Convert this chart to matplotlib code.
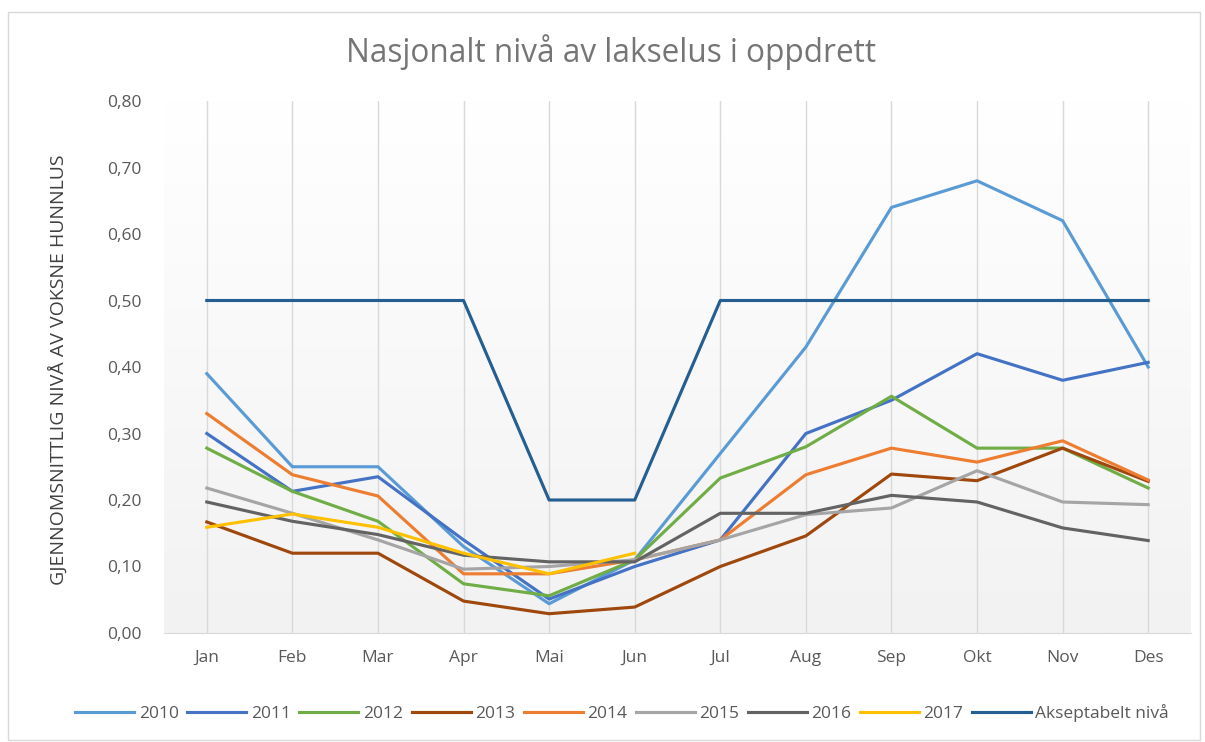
import numpy as np
import matplotlib.pyplot as plt
from matplotlib.patches import Rectangle
from matplotlib.colors import LinearSegmentedColormap

plt.rcParams['font.family'] = ['Open Sans', 'DejaVu Sans']

months = ['Jan', 'Feb', 'Mar', 'Apr', 'Mai', 'Jun', 'Jul', 'Aug', 'Sep', 'Okt', 'Nov', 'Des']

y2010 = [0.39, 0.25, 0.25, 0.13, 0.044, 0.11, 0.27, 0.43, 0.64, 0.68, 0.62, 0.40]
y2011 = [0.30, 0.213, 0.235, 0.14, 0.051, 0.10, 0.14, 0.30, 0.35, 0.42, 0.38, 0.407]
y2012 = [0.278, 0.213, 0.168, 0.074, 0.056, 0.11, 0.233, 0.28, 0.356, 0.278, 0.278, 0.218]
y2013 = [0.167, 0.12, 0.12, 0.048, 0.029, 0.039, 0.10, 0.146, 0.239, 0.229, 0.278, 0.228]
y2014 = [0.33, 0.238, 0.206, 0.089, 0.089, 0.11, 0.14, 0.238, 0.278, 0.257, 0.289, 0.23]
y2015 = [0.218, 0.18, 0.14, 0.096, 0.10, 0.11, 0.14, 0.178, 0.188, 0.244, 0.197, 0.193]
y2016 = [0.197, 0.168, 0.148, 0.117, 0.107, 0.107, 0.18, 0.18, 0.207, 0.197, 0.158, 0.139]
y2017 = [0.159, 0.179, 0.159, 0.12, 0.089, 0.12]
akseptabelt = [0.5, 0.5, 0.5, 0.5, 0.2, 0.2, 0.5, 0.5, 0.5, 0.5, 0.5, 0.5]

series = [
    ('2010', y2010, '#5B9BD5'),
    ('2011', y2011, '#4472C4'),
    ('2012', y2012, '#70AD47'),
    ('2013', y2013, '#9E480E'),
    ('2014', y2014, '#ED7D31'),
    ('2015', y2015, '#A5A5A5'),
    ('2016', y2016, '#636363'),
    ('2017', y2017, '#FFC000'),
    ('Akseptabelt nivå', akseptabelt, '#255E91'),
]

fig = plt.figure(figsize=(12.05, 7.42), dpi=100)
fig.patch.set_facecolor('white')
# outer chart border
fig.add_artist(Rectangle((8 / 1205, 2 / 742), 1192 / 1205, 728 / 742, transform=fig.transFigure,
                         fill=False, edgecolor='#d9d9d9', lw=1))

ax = fig.add_axes([164 / 1205, 1 - 633 / 742, (1191 - 164) / 1205, (633 - 101) / 742])

# gradient background
grad = np.linspace(1.0, 0.0, 256).reshape(-1, 1)
ax.imshow(grad, extent=[0, 1, 0, 1], transform=ax.transAxes, aspect='auto',
          cmap=LinearSegmentedColormap.from_list('g', ['#f2f2f2', '#ffffff']), zorder=0)

x = np.arange(len(months))
for xi in x:
    ax.axvline(xi, color='#d9d9d9', lw=1, zorder=1)

for label, vals, color in series:
    ax.plot(x[:len(vals)], vals, color=color, lw=2.25, label=label, zorder=3,
            solid_joinstyle='round')

ax.set_xlim(-0.5, len(months) - 0.5)
ax.set_ylim(0, 0.8)
ax.set_xticks(x)
ax.set_xticklabels(months)
yt = np.arange(0, 0.81, 0.1)
ax.set_yticks(yt)
ax.set_yticklabels([f'{v:.2f}'.replace('.', ',') for v in yt])
ax.tick_params(length=0, labelsize=12.5, colors='#595959')
ax.tick_params(axis='x', pad=12)
ax.tick_params(axis='y', pad=16)
for s in ['top', 'right', 'left']:
    ax.spines[s].set_visible(False)
ax.spines['bottom'].set_color('#d9d9d9')

fig.text(611 / 1205, 1 - 52 / 742, 'Nasjonalt nivå av lakselus i oppdrett', ha='center', va='center',
         fontsize=22.7, color='#757575')
fig.text(58 / 1205, 1 - 370 / 742, 'GJENNOMSNITTLIG NIVÅ AV VOKSNE HUNNLUS', rotation=90,
         ha='center', va='center', fontsize=14, color='#404040')

fig.legend(loc='center', bbox_to_anchor=(622 / 1205, 1 - 713 / 742), ncol=9, frameon=False,
           fontsize=12.5, handlelength=3.4, columnspacing=0.5, handletextpad=0.25,
           labelcolor='#595959')

fig.savefig('out.png', dpi=100)
